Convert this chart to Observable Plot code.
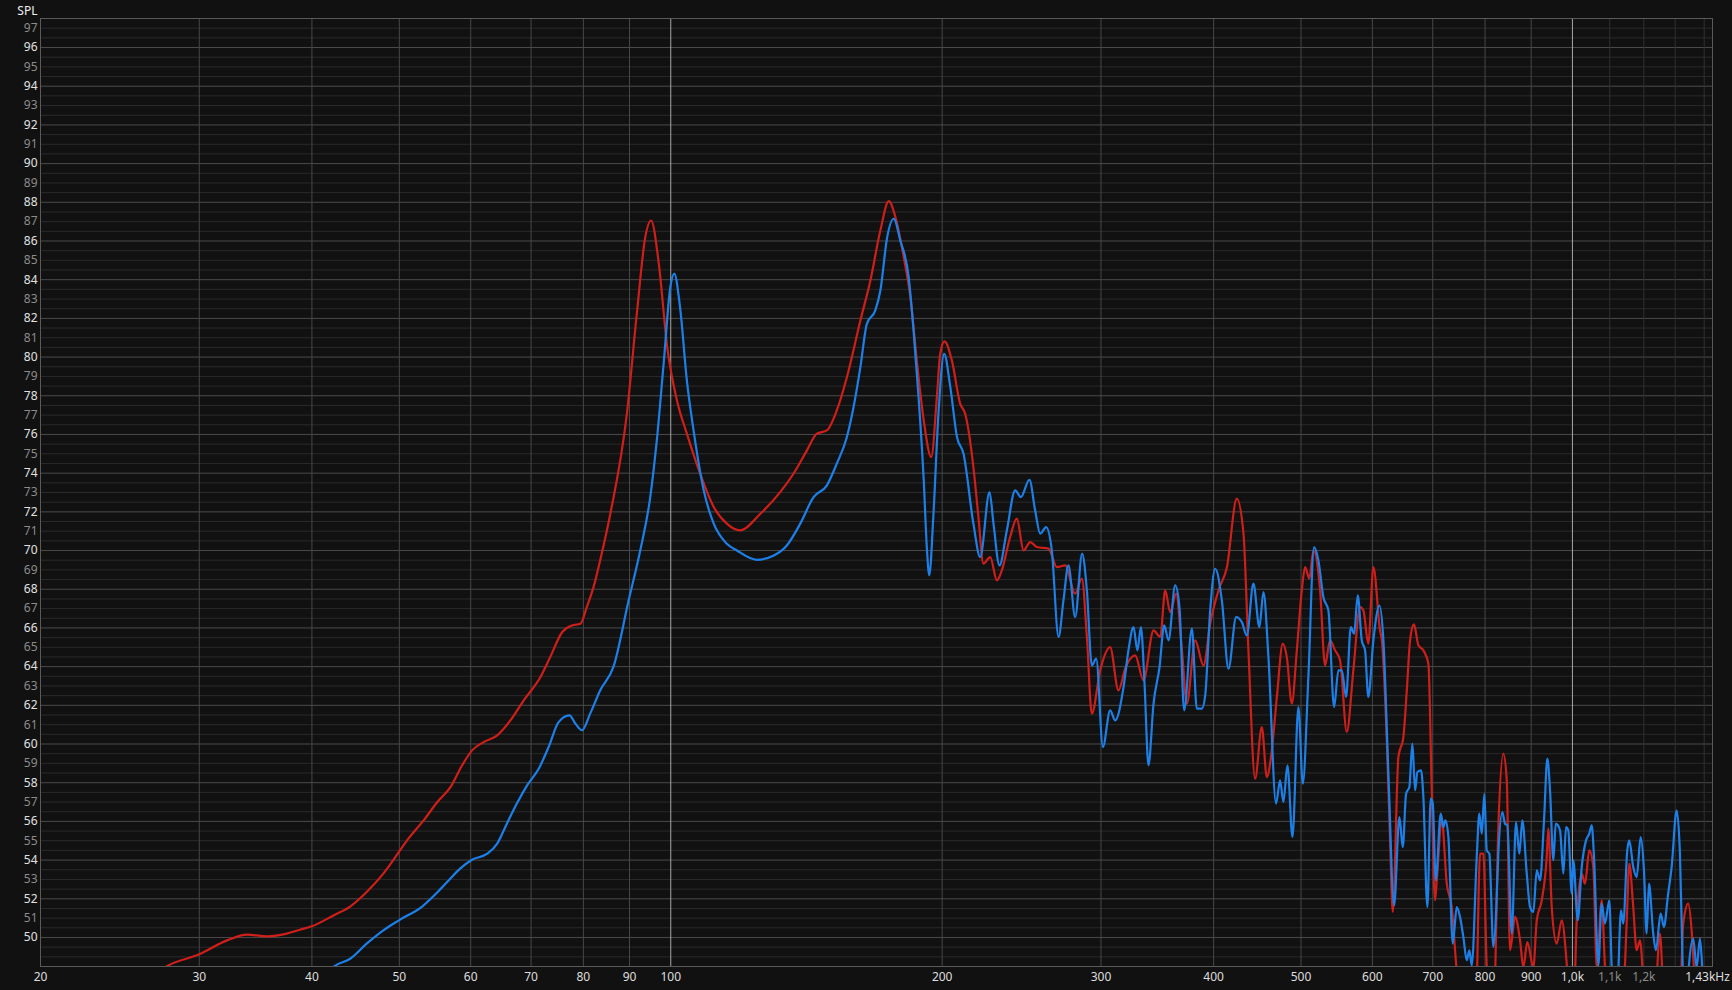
<!DOCTYPE html>
<html>
<head>
<meta charset="utf-8">
<script src="https://cdn.jsdelivr.net/npm/d3@7"></script>
<script src="https://cdn.jsdelivr.net/npm/@observablehq/plot@0.6"></script>
<style>
  html, body { margin: 0; padding: 0; background: #111111; }
  #chart { width: 1732px; height: 990px; overflow: hidden; }
</style>
</head>
<body>
<div id="chart"></div>
<script>
// ---- Data: [frequency Hz, SPL dB] ----
const red = [
  [26.0,47.5],[27.6,48.5],[30.0,49.13],[32.2,49.85],[33.9,50.15],[35.7,50.06],[37.5,50.2],[38.8,50.4],
  [40.0,50.58],[42.3,51.15],[44.1,51.6],[46.0,52.35],[48.0,53.3],[48.9,53.8],[51.0,55.02],[53.2,56.05],
  [55.1,57.0],[57.0,57.78],[58.7,58.9],[60.2,59.67],[62.0,60.1],[64.2,60.45],[66.4,61.22],[68.7,62.26],
  [71.7,63.46],[73.5,64.49],[75.8,65.79],[77.7,66.13],[79.4,66.22],[80.7,67.08],[82.1,68.11],[83.5,69.49],
  [85.7,71.9],[89.4,77.07],[91.7,82.24],[93.7,86.2],[95.1,87.06],[97.0,84.82],[99.1,80.51],[101.6,77.76],
  [104.2,76.04],[107.8,73.97],[111.6,72.25],[115.4,71.39],[119.4,71.04],[125.7,71.9],[132.3,73.03],
  [136.8,73.97],[141.6,75.18],[145.2,76.04],[149.0,76.21],[152.8,77.24],[156.8,78.96],[162.3,81.89],
  [166.5,83.96],[170.8,86.55],[174.5,88.06],[177.5,87.23],[181.3,85.17],[184.4,83.1],[187.6,79.66],
  [190.8,76.73],[194.5,74.83],[197.3,77.93],[199.0,80.17],[201.2,80.81],[205.0,79.83],[209.4,77.59],
  [212.1,77.07],[216.6,74.31],[219.4,71.73],[222.2,69.32],[226.1,69.66],[230.0,68.46],[232.9,68.97],
  [237.9,70.70],[242.0,71.65],[246.2,70.01],[250.4,70.44],[254.7,70.18],[262.4,70.10],[268.1,69.14],
  [273.8,69.23],[280.9,67.77],[285.7,68.55],[289.4,65.53],[293.1,61.57],[299.4,63.81],[307.1,65.01],
  [313.7,62.77],[319.1,63.89],[327.4,64.58],[334.4,63.29],[343.1,65.87],[349.0,65.53],[353.5,67.94],
  [358.0,66.82],[363.5,67.77],[368.9,64.84],[373.6,62.09],[381.6,65.36],[389.8,64.06],[396.5,66.22],
  [405.0,67.94],[413.8,69.14],[424.4,72.68],[431.7,70.87],[437.2,64.84],[444.7,58.21],[452.4,60.88],
  [458.2,58.29],[464.1,59.67],[470.1,62.43],[477.3,65.19],[482.2,64.49],[488.4,62.09],[494.7,64.84],
  [501.0,67.94],[505.3,69.14],[510.8,68.55],[516.1,70.01],[525.0,67.94],[531.7,64.06],[538.5,65.36],
  [545.5,64.84],[552.5,64.32],[562.0,60.62],[571.5,63.81],[581.4,67.08],[586.3,66.91],[593.8,65.19],
  [601.5,69.14],[611.8,65.87],[614.6,65.36],[622.5,60.19],[627.7,55.02],[632.1,51.32],[641.2,59.33],
  [649.4,60.36],[655.1,62.77],[660.6,65.36],[667.2,66.18],[674.8,65.10],[683.4,64.84],[692.2,64.15],
  [698.2,57.60],[704.1,51.92],[707.2,52.95],[716.3,56.05],[725.5,52.78],[734.8,51.57],[744.2,48.30],
  [754.4,47],[781.8,47],[789.8,54.33],[796.5,54.33],[803.5,48.47],[808.2,47],[818.6,47],[827.6,55.71],
  [838.2,59.50],[845.6,58.12],[852.7,49.34],[863.7,51.06],[874.8,49.85],[882.2,48.47],[891.2,49.76],
  [905.0,48.47],[912.9,50.89],[924.6,51.92],[936.5,54.16],[940.3,55.63],[948.5,51.57],[960.7,49.68],
  [973.0,50.89],[985.5,48.65],[991.3,47],[1004.0,47],[1011.0,50.89],[1024.0,53.30],[1032.6,52.78],
  [1044.0,54.50],[1054.8,53.64],[1063.9,48.47],[1077.6,51.92],[1086.7,48.47],[1092.2,47],[1137.8,47],
  [1148.5,50.72],[1156.2,53.82],[1168.0,51.57],[1178.2,49.34],[1188.2,49.85],[1203.4,47],[1234.5,47],
  [1250.4,50.20],[1263.2,47],[1315.9,47],[1327.1,50.72],[1344.1,51.75],[1355.8,50.37],[1363.8,48.47],
  [1374.3,47],[1460,47]
];

const blue = [
  [40.5,47.5],[42.3,48.5],[44.1,48.9],[46.0,49.68],[48.0,50.37],[50.0,50.9],[53.0,51.6],[55.0,52.3],
  [56.7,52.95],[58.4,53.56],[60.2,54.02],[62.6,54.33],[64.2,54.85],[65.8,55.88],[67.5,56.92],[69.3,57.86],
  [71.4,58.73],[73.2,59.84],[75.1,61.13],[77.2,61.48],[78.4,61.05],[79.7,60.71],[81.4,61.57],[83.5,62.77],
  [86.4,64.0],[89.8,67.42],[92.5,70.0],[94.9,72.76],[96.5,75.69],[98.2,79.66],[99.9,83.62],[100.9,84.31],
  [102.4,82.58],[104.2,78.8],[106.0,76.21],[108.8,73.1],[111.6,71.39],[115.4,70.35],[118.4,70.0],
  [124.6,69.52],[130.1,69.74],[134.5,70.26],[139.2,71.39],[144.0,72.76],[149.0,73.37],[152.8,74.49],
  [156.8,75.87],[159.5,77.42],[162.3,79.48],[165.0,81.72],[168.6,82.41],[170.8,83.44],[173.8,86.2],
  [176.7,87.15],[179.7,86.03],[183.6,84.13],[185.9,81.38],[188.3,77.93],[190.8,73.62],[192.3,70.18],
  [193.5,68.72],[195.6,71.9],[198.1,77.07],[201.0,80.17],[204.2,78.45],[207.7,75.87],[211.2,75.0],
  [216.6,71.39],[220.4,69.66],[225.7,73.02],[228.0,71.39],[231.5,69.23],[235.9,71.04],[241.0,73.11],
  [244.5,72.76],[249.9,73.66],[253.6,72.07],[256.9,70.87],[260.8,71.21],[264.6,70.01],[269.2,65.53],
  [272.6,67.42],[276.1,69.23],[280.9,66.56],[285.9,69.84],[289.4,67.94],[293.1,64.06],[296.4,64.41],
  [301.5,59.84],[307.1,61.74],[311.1,61.22],[317.8,62.94],[321.8,64.84],[326.0,66.04],[329.3,64.84],
  [332.2,66.04],[335.3,63.12],[338.7,58.90],[343.1,62.09],[348.4,63.98],[352.6,66.13],[356.5,65.36],
  [362.6,68.20],[366.6,67.08],[371.0,61.74],[378.4,65.96],[383.2,61.83],[388.2,61.83],[391.5,62.51],
  [396.5,66.91],[401.6,69.06],[408.5,67.42],[415.5,63.89],[423.7,66.56],[429.9,66.30],[435.4,65.61],
  [442.8,68.29],[449.6,66.04],[454.3,67.85],[460.1,64.49],[469.2,56.92],[474.0,58.12],[478.0,57.0],
  [483.0,58.90],[489.2,55.19],[496.7,61.91],[502.3,57.95],[509.5,63.46],[517.0,70.18],[522.7,69.49],
  [529.4,67.59],[536.2,66.91],[544.1,61.91],[550.1,63.81],[554.9,63.81],[561.0,62.43],[567.8,66.04],
  [572.6,65.70],[578.0,67.68],[583.9,65.36],[588.9,64.84],[593.8,62.43],[601.5,65.36],[610.8,67.16],
  [617.1,65.36],[625.0,58.47],[634.2,51.66],[642.8,56.22],[648.4,54.67],[653.9,57.43],[659.4,57.78],
  [664.5,60.02],[669.1,57.60],[673.1,58.55],[679.4,58.64],[683.4,57.26],[690.4,51.57],[696.4,57.18],
  [700.0,56.92],[705.4,52.95],[714.4,56.40],[719.2,55.71],[722.9,56.05],[728.5,55.19],[736.7,49.68],
  [744.2,51.57],[750.5,51.06],[756.9,50.02],[763.5,48.82],[768.6,49.34],[773.3,48.56],[783.2,54.16],
  [788.4,56.40],[793.3,55.37],[798.6,57.43],[803.5,54.50],[808.8,54.33],[817.1,49.51],[822.8,51.23],
  [827.6,54.33],[836.1,56.48],[841.9,55.88],[846.9,55.80],[856.4,50.20],[865.9,55.97],[873.2,54.33],
  [879.9,56.05],[889.9,53.30],[897.4,51.57],[905.0,51.32],[912.9,53.47],[920.6,52.95],[930.0,56.05],
  [937.9,59.24],[944.4,57.60],[952.4,53.99],[958.3,55.88],[968.8,55.54],[977.1,53.30],[983.7,55.71],
  [989.5,55.54],[998.2,52.27],[1002.3,53.99],[1013.6,50.89],[1024.0,53.64],[1035.3,55.02],[1044.0,55.37],
  [1050.4,55.80],[1056.6,54.16],[1068.3,48.56],[1077.6,51.75],[1086.7,50.72],[1098.7,51.92],[1105.4,48.47],
  [1109.1,47],[1120.5,47],[1132.0,51.40],[1138.6,50.72],[1150.3,54.50],[1156.2,55.02],[1168.0,53.64],
  [1178.2,53.12],[1190.3,55.19],[1200.4,53.47],[1208.7,50.20],[1215.8,52.78],[1229.2,50.20],[1237.7,49.34],
  [1252.6,51.23],[1263.2,50.54],[1276.2,52.18],[1288.3,53.64],[1304.9,56.57],[1315.9,54.33],[1325.0,48.65],
  [1329.4,47],[1339.6,47],[1346.5,48.56],[1361.3,49.94],[1373.2,48.47],[1384.8,49.94],[1393.0,48.47],
  [1399.0,47],[1460,47]
];

// ---- Axes / ticks ----
const xDomain = [20, 1430];
const yDomain = [48.5, 97.5];
const xTicksBright = [20, 30, 40, 50, 60, 70, 80, 90, 100, 200, 300, 400, 500, 600, 700, 800, 900, 1000];
const xTicksDim = [1100, 1200];
const xLabels = {1000: "1,0k", 1100: "1,1k", 1200: "1,2k", 1430: "1,43kHz"};
const xGridMajor = [30, 40, 50, 60, 70, 80, 90, 200, 300, 400, 500, 600, 700, 800, 900];
const xGridDecade = [100, 1000];
const xGridFine = [1100, 1200, 1300, 1400];
const yTicksEven = d3.range(50, 98, 2);
const yTicksOdd = d3.range(51, 98, 2);
const yGridMinor = d3.range(49, 97.51, 0.5).filter(v => v % 2 !== 0);

const fmtX = d => xLabels[d] ?? String(d);
const toObj = arr => arr.map(([f, v]) => ({f, v}));

const chart = Plot.plot({
  width: 1732,
  height: 990,
  marginLeft: 40,
  marginRight: 20,
  marginTop: 18,
  marginBottom: 24,
  style: {background: "#111111", color: "#dddddd", fontFamily: "'Noto Sans', 'Open Sans', sans-serif", fontSize: "12px"},
  x: {type: "log", domain: xDomain, axis: null},
  y: {domain: yDomain, axis: null},
  marks: [
    Plot.ruleY(yGridMinor, {stroke: "#2a2a2a", strokeWidth: 1}),
    Plot.ruleY(yTicksEven, {stroke: "#4b4b4b", strokeWidth: 1}),
    Plot.ruleX(xGridFine, {stroke: "#303030", strokeWidth: 1}),
    Plot.ruleX(xGridMajor, {stroke: "#474747", strokeWidth: 1}),
    Plot.ruleX(xGridDecade, {stroke: "#a8a8a8", strokeWidth: 1}),
    Plot.frame({stroke: "#5a5a5a"}),
    Plot.line(toObj(red), {x: "f", y: "v", stroke: "#cf1f1a", strokeWidth: 2.2, curve: "monotone-x", clip: true}),
    Plot.line(toObj(blue), {x: "f", y: "v", stroke: "#1c80e8", strokeWidth: 2.2, curve: "monotone-x", clip: true}),
    Plot.axisY(yTicksEven, {tickSize: 0, tickPadding: 3, fill: "#e2e2e2", label: null}),
    Plot.axisY(yTicksOdd, {tickSize: 0, tickPadding: 3, fill: "#8c8c8c", label: null}),
    Plot.axisX(xTicksBright, {tickSize: 0, tickPadding: 6, fill: "#dedede", tickFormat: fmtX, label: null}),
    Plot.axisX(xTicksDim, {tickSize: 0, tickPadding: 6, fill: "#8a8a8a", tickFormat: fmtX, label: null}),
    Plot.axisX([1430], {tickSize: 0, tickPadding: 6, fill: "#dedede", tickFormat: fmtX, label: null, dx: -5}),
    Plot.text(["SPL"], {frameAnchor: "top-left", dx: -3, dy: -4, textAnchor: "end", lineAnchor: "bottom", fill: "#f0f0f0", fontSize: 12})
  ]
});
document.getElementById("chart").appendChild(chart);
</script>
</body>
</html>
